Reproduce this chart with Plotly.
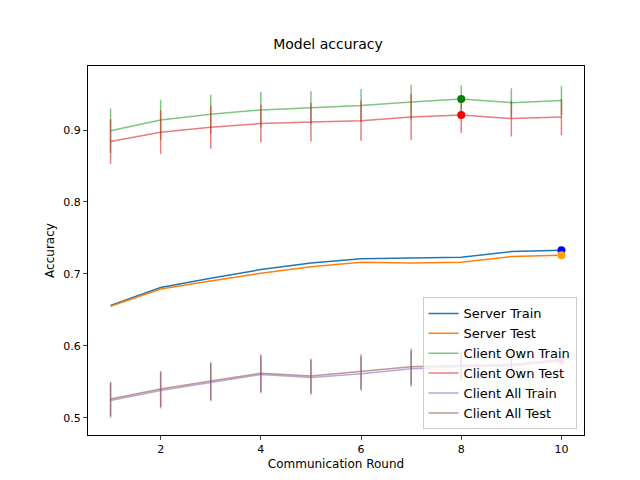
import plotly.graph_objects as go

rounds = [1, 2, 3, 4, 5, 6, 7, 8, 9, 10]
server_train = [0.656, 0.681, 0.694, 0.706, 0.715, 0.721, 0.722, 0.723, 0.731, 0.733]
server_test = [0.655, 0.679, 0.690, 0.701, 0.710, 0.716, 0.715, 0.716, 0.724, 0.726]
own_train = [0.899, 0.914, 0.922, 0.928, 0.931, 0.934, 0.939, 0.943, 0.938, 0.941]
own_train_sd = [0.031, 0.028, 0.027, 0.025, 0.023, 0.023, 0.024, 0.019, 0.020, 0.020]
own_test = [0.884, 0.897, 0.904, 0.909, 0.911, 0.913, 0.918, 0.921, 0.916, 0.918]
own_test_sd = [0.031, 0.030, 0.030, 0.026, 0.027, 0.028, 0.032, 0.025, 0.025, 0.025]
all_train = [0.524, 0.538, 0.549, 0.560, 0.556, 0.561, 0.568, 0.571, 0.572, 0.579]
all_train_sd = [0.024, 0.025, 0.026, 0.026, 0.024, 0.024, 0.025, 0.020, 0.020, 0.005]
all_test = [0.526, 0.540, 0.551, 0.562, 0.558, 0.564, 0.571, 0.573, 0.574, 0.581]
all_test_sd = [0.024, 0.025, 0.026, 0.026, 0.024, 0.024, 0.025, 0.020, 0.020, 0.005]

fig = go.Figure()
fig.add_trace(go.Scatter(x=rounds, y=server_train, mode="lines", name="Server Train", line=dict(color="#1f77b4", width=1.5)))
fig.add_trace(go.Scatter(x=rounds, y=server_test, mode="lines", name="Server Test", line=dict(color="#ff7f0e", width=1.5)))
for name, ys, sd, col in [("Client Own Train", own_train, own_train_sd, "rgba(44,160,44,0.6)"),
                          ("Client Own Test", own_test, own_test_sd, "rgba(214,39,40,0.6)"),
                          ("Client All Train", all_train, all_train_sd, "rgba(148,103,189,0.6)"),
                          ("Client All Test", all_test, all_test_sd, "rgba(140,86,75,0.6)")]:
    fig.add_trace(go.Scatter(x=rounds, y=ys, mode="lines", name=name, line=dict(color=col, width=1.5),
                             error_y=dict(type="data", array=sd, color=col, thickness=1.5, width=0)))

best = [(8, own_train[7], "green"), (8, own_test[7], "red"), (10, server_train[9], "blue"),
        (10, server_test[9], "orange"), (10, all_train[9], "rgba(148,103,189,0.4)"), (10, all_test[9], "rgba(227,119,194,0.4)")]
for bx, by, c in best:
    fig.add_trace(go.Scatter(x=[bx], y=[by], mode="markers", marker=dict(color=c, size=8), showlegend=False))

fig.update_layout(
    width=640, height=480, plot_bgcolor="white", paper_bgcolor="white",
    margin=dict(l=80, r=64, t=58, b=53, autoexpand=False),
    title=dict(text="Model accuracy", x=0.5, xanchor="center", y=0.915, yanchor="bottom", font=dict(size=14, color="black")),
    font=dict(family="DejaVu Sans", size=11, color="black"),
    legend=dict(x=0.985, y=0.015, xanchor="right", yanchor="bottom", bordercolor="#cccccc", borderwidth=1,
                bgcolor="rgba(255,255,255,0.8)", font=dict(size=13), tracegroupgap=0),
    xaxis=dict(title=dict(text="Communication Round", font=dict(size=12), standoff=4), range=[0.55, 10.45], tickvals=[2, 4, 6, 8, 10],
               automargin=False, showgrid=False, zeroline=False, showline=True, linecolor="black", mirror=True, ticks="outside", ticklen=4),
    yaxis=dict(title=dict(text="Accuracy", font=dict(size=12), standoff=6), range=[0.476, 0.989], tickvals=[0.5, 0.6, 0.7, 0.8, 0.9], tickformat=".1f",
               automargin=False, showgrid=False, zeroline=False, showline=True, linecolor="black", mirror=True, ticks="outside", ticklen=4),
)
fig.write_html("out.html")
